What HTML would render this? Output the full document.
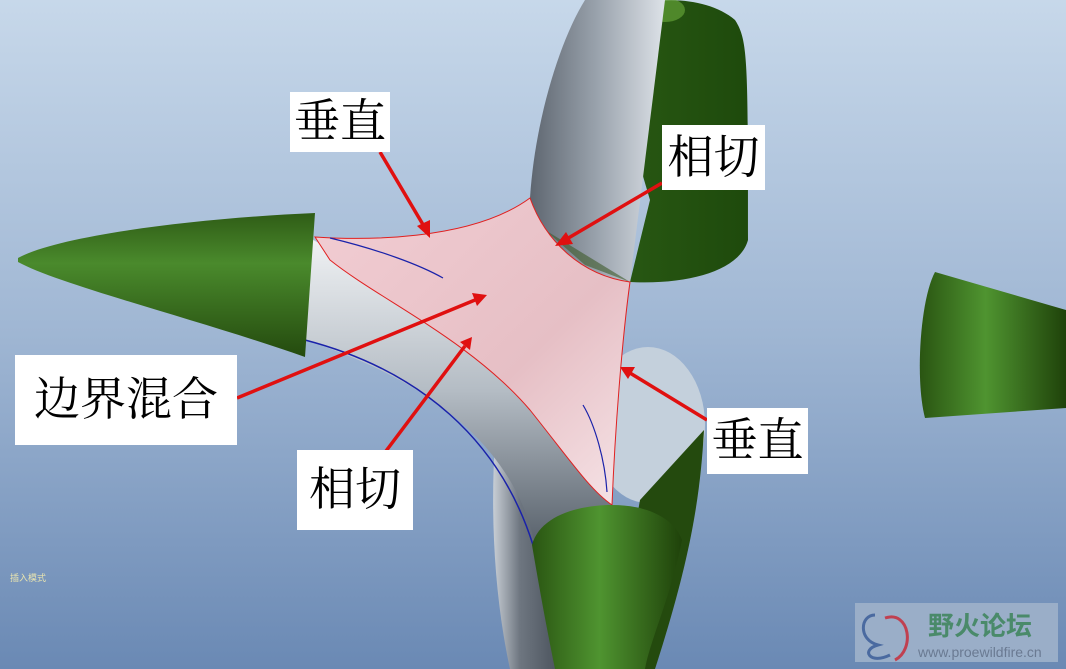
<!DOCTYPE html>
<html><head><meta charset="utf-8"><style>
html,body{margin:0;padding:0;width:1066px;height:669px;overflow:hidden}
.lbl{position:absolute;background:#fff;font-family:"Liberation Serif","Noto Serif CJK SC",serif;color:#000;font-size:46px;line-height:1;display:flex;align-items:center;justify-content:center}
</style></head><body>
<svg width="1066" height="669" style="position:absolute;left:0;top:0">
<defs>
<linearGradient id="bg" x1="0" y1="0" x2="0" y2="1"><stop offset="0" stop-color="#c7d8ea"/><stop offset="0.5" stop-color="#9fb6d3"/><stop offset="1" stop-color="#6a89b4"/></linearGradient>
<linearGradient id="gh" x1="0" y1="0" x2="0" y2="1"><stop offset="0" stop-color="#2f5c16"/><stop offset="0.35" stop-color="#4a8a2c"/><stop offset="1" stop-color="#244a0e"/></linearGradient>
<linearGradient id="gv" x1="0" y1="0" x2="1" y2="0"><stop offset="0" stop-color="#2a5512"/><stop offset="0.45" stop-color="#4f9430"/><stop offset="1" stop-color="#1f420a"/></linearGradient>
<linearGradient id="gt" x1="0" y1="0" x2="1" y2="0"><stop offset="0" stop-color="#2a5a14"/><stop offset="1" stop-color="#1e4a0c"/></linearGradient>
<linearGradient id="tv" x1="0" y1="0" x2="1" y2="0"><stop offset="0" stop-color="#5e6670"/><stop offset="0.5" stop-color="#9aa3ad"/><stop offset="1" stop-color="#dde2e8"/></linearGradient>
<linearGradient id="tb" x1="0" y1="0" x2="1" y2="0"><stop offset="0" stop-color="#c8ced5"/><stop offset="0.4" stop-color="#6e7680"/><stop offset="1" stop-color="#4a525c"/></linearGradient>
<linearGradient id="th" x1="0" y1="0" x2="0" y2="1"><stop offset="0" stop-color="#f0f2f4"/><stop offset="0.5" stop-color="#b4bcc4"/><stop offset="1" stop-color="#58616b"/></linearGradient>
<linearGradient id="pk" x1="0" y1="0" x2="1" y2="1"><stop offset="0" stop-color="#f2cdd3"/><stop offset="0.6" stop-color="#e6bfc5"/><stop offset="1" stop-color="#f6e4e7"/></linearGradient>
</defs>
<rect width="1066" height="669" fill="url(#bg)"/>
<!-- bottom tube behind -->
<path d="M495,440 L560,440 L560,669 L510,669 C495,600 490,520 495,440 Z" fill="url(#tb)"/>
<!-- right disk -->
<ellipse cx="648" cy="425" rx="57" ry="78" fill="#c4d0dc"/>
<path d="M704,430 C700,500 690,560 655,669 L610,669 L640,500 Z" fill="#244a0e"/>
<!-- curved arm -->
<path d="M308,237 L420,300 L560,420 L612,505 L535,545 C520,470 460,390 305,340 Z" fill="url(#th)"/>
<path d="M305,340 C420,370 500,440 533,545" fill="none" stroke="#1a22aa" stroke-width="1.5"/>
<!-- top green capsule -->
<path d="M600,30 C620,-5 700,-10 735,20 C748,40 748,60 748,240 C740,270 690,285 630,282 L650,200 Z" fill="url(#gt)"/>
<ellipse cx="665" cy="10" rx="20" ry="12" fill="#6cae3c" opacity="0.6"/>
<!-- top gray tube -->
<path d="M585,0 L665,0 L630,282 C590,275 545,250 530,198 C535,120 560,40 585,0 Z" fill="url(#tv)"/>
<path d="M545,230 L585,265 L630,282 Z" fill="#3d5a2a" opacity="0.6"/>
<!-- pink surface -->
<path d="M315,237 C360,240 470,242 530,198 C545,240 580,275 630,282 C622,340 615,430 612,505 C590,490 570,460 530,410 C470,340 380,300 330,260 Z" fill="url(#pk)" stroke="#e02020" stroke-width="1"/>
<path d="M330,238 C380,250 420,265 443,278" fill="none" stroke="#1a22aa" stroke-width="1.2"/>
<path d="M583,405 C595,425 605,460 607,492" fill="none" stroke="#1a22aa" stroke-width="1.2"/>
<!-- left cone -->
<path d="M18,258 C60,235 200,218 315,213 L305,357 C200,320 60,285 18,262 Z" fill="url(#gh)"/>
<!-- bottom cone -->
<path d="M532,545 C540,515 580,505 612,505 C650,505 675,520 682,540 C670,600 650,640 645,669 L555,669 C545,620 538,580 532,545 Z" fill="url(#gv)"/>
<!-- right cone -->
<path d="M935,272 L1066,310 L1066,408 L925,418 C915,380 920,300 935,272 Z" fill="url(#gv)"/>
<!-- arrows -->
<g stroke="#e01010" stroke-width="3.5" fill="#e01010">
<line x1="380" y1="152" x2="425" y2="228"/><polygon points="430,238 417,226 430,220" stroke="none"/>
<line x1="662" y1="183" x2="565" y2="240"/><polygon points="555,246 566,232 573,244" stroke="none"/>
<line x1="237" y1="398" x2="475" y2="300"/><polygon points="487,295 472,293 477,306" stroke="none"/>
<line x1="383" y1="455" x2="465" y2="346"/><polygon points="472,337 460,342 470,350" stroke="none"/>
<line x1="707" y1="420" x2="630" y2="373"/><polygon points="620,367 635,367 628,379" stroke="none"/>
</g>
<text x="10" y="581" font-family="Liberation Sans,'Noto Sans CJK SC',sans-serif" font-size="9" fill="#e8e4b0">插入模式</text>
<rect x="855" y="603" width="203" height="59" fill="#9fb1ca" opacity="0.9"/>
<path d="M875,615 C860,615 858,640 878,645 C860,650 870,665 890,655" fill="none" stroke="#4a6aa0" stroke-width="3"/>
<path d="M885,618 C910,610 915,650 895,660" fill="none" stroke="#c04050" stroke-width="3"/>
<text x="928" y="635" font-family="Liberation Sans,'Noto Sans CJK SC',sans-serif" font-size="26" font-weight="bold" fill="#4a8a6a">野火论坛</text>
<text x="918" y="657" font-family="Liberation Sans,sans-serif" font-size="14" fill="#6a7a92">www.proewildfire.cn</text>
</svg>
<div class="lbl" style="left:290px;top:92px;width:100px;height:60px">垂直</div>
<div class="lbl" style="left:662px;top:125px;width:103px;height:65px">相切</div>
<div class="lbl" style="left:15px;top:355px;width:222px;height:90px">边界混合</div>
<div class="lbl" style="left:707px;top:408px;width:101px;height:66px">垂直</div>
<div class="lbl" style="left:297px;top:450px;width:116px;height:80px">相切</div>
</body></html>
